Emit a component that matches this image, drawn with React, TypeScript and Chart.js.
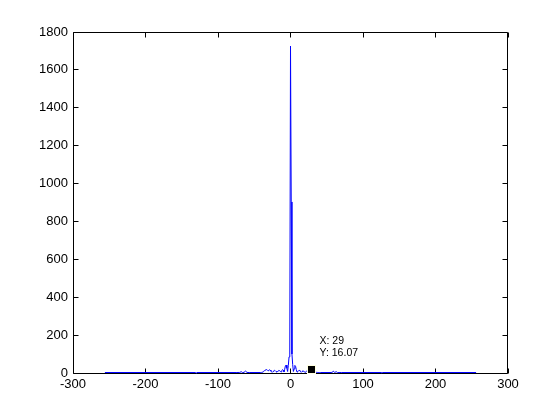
import { useEffect, useRef } from "react";
import { Chart, registerables } from "chart.js";

Chart.register(...registerables);

// Frequency bins (x) and magnitude values (y)
const freqs = [
  -256, -131, -130, -129, -75, -70, -68, -66, -64, -62, -60, -57,
  -41, -40, -39, -38, -37, -36, -35, -34, -33, -32, -31, -30, -29, -28, -27, -26, -25, -24, -23, -22, -21,
  -20, -19, -18, -17, -16, -15, -14, -13, -12, -11, -10, -9, -8, -7, -6, -5, -4, -3, -2, -1,
  0, 1, 2, 3, 4, 5, 6, 7, 8, 9, 10, 11, 12, 13, 14, 15, 16, 17, 18, 19, 20,
  21, 22, 23, 24, 25, 26, 27, 28, 29, 30, 31, 32, 33, 34, 35, 36, 37, 38, 39, 40, 41,
  56, 58, 59, 61, 63, 65, 67, 70, 125, 126, 127, 256,
];
const magnitude = [
  2.5, 2.5, 0, 2.5, 2.5, 3, 7, 2, 4, 10, 3, 2.5,
  2.5, 3, 4, 6, 9, 12, 15, 17, 18, 16, 12, 14, 17, 15, 10, 5, 4, 8, 12, 14, 12,
  8, 5, 7, 11, 14, 12, 8, 6, 12, 18, 15, 6, 20, 38, 42, 25, 8, 40, 85, 100,
  1726, 903, 100, 45, 8, 22, 40, 35, 18, 5, 8, 12, 14, 12, 6, 4, 8, 12, 10, 6, 4,
  6, 9, 12, 14, 12, 9, 12, 15, 16.07, 14, 11, 8, 6, 5, 4, 3.5, 3, 3, 2.5, 2.5, 2.5,
  2.5, 4, 10, 3, 7, 2, 2.5, 2.5, 2.5, 0, 2.5, 2.5,
];

const xTicks = [-300, -200, -100, 0, 100, 200, 300];
const yTicks = [0, 200, 400, 600, 800, 1000, 1200, 1400, 1600, 1800];

const tipX = 29;
const tipY = 16.07;
const tipLines = ["X: 29", "Y: 16.07"];

const FONT = "Arial, 'Liberation Sans', Helvetica, sans-serif";

const matlabAxes = {
  id: "matlabAxes",
  beforeDatasetsDraw(chart: any) {
    const { ctx } = chart;
    const xs = chart.scales.x;
    const ys = chart.scales.y;
    const L = Math.floor(xs.getPixelForValue(-300)) + 0.5;
    const R = Math.floor(xs.getPixelForValue(300)) - 0.5;
    const T = Math.floor(ys.getPixelForValue(1800)) + 0.5;
    const B = Math.floor(ys.getPixelForValue(0)) + 0.5;
    ctx.save();
    ctx.strokeStyle = "#000";
    ctx.lineWidth = 1;
    ctx.beginPath();
    ctx.rect(L, T, R - L, B - T);
    const tl = 5;
    for (const v of xTicks) {
      const p = Math.floor(xs.getPixelForValue(v)) + 0.5;
      ctx.moveTo(p, B);
      ctx.lineTo(p, B - tl);
      ctx.moveTo(p, T);
      ctx.lineTo(p, T + tl);
    }
    for (const v of yTicks) {
      const p = Math.floor(ys.getPixelForValue(v)) + 0.5;
      ctx.moveTo(L, p);
      ctx.lineTo(L + tl, p);
      ctx.moveTo(R, p);
      ctx.lineTo(R - tl, p);
    }
    ctx.stroke();
    ctx.restore();
  },
  afterDatasetsDraw(chart: any) {
    const { ctx } = chart;
    const px = chart.scales.x.getPixelForValue(tipX);
    const py = chart.scales.y.getPixelForValue(tipY);
    ctx.save();
    ctx.fillStyle = "#ffffe0";
    ctx.fillRect(Math.round(px) - 5, Math.round(py) - 5, 9, 9);
    ctx.fillStyle = "#000";
    ctx.fillRect(Math.round(px) - 4, Math.round(py) - 4, 7, 7);
    ctx.font = `10.5px ${FONT}`;
    ctx.textBaseline = "middle";
    ctx.textAlign = "left";
    ctx.fillText(tipLines[0], px + 8, py - 29);
    ctx.fillText(tipLines[1], px + 8, py - 17);
    ctx.restore();
  },
};

export default function App() {
  const ref = useRef<HTMLCanvasElement | null>(null);
  useEffect(() => {
    if (!ref.current) return;
    const chart = new Chart(ref.current, {
      type: "line",
      data: {
        datasets: [
          {
            data: freqs.map((x, i) => ({ x, y: magnitude[i] })),
            borderColor: "#0000ff",
            borderWidth: 1,
            pointRadius: 0,
            tension: 0,
            fill: false,
            clip: 4,
          } as any,
        ],
      },
      options: {
        responsive: false,
        animation: false,
        devicePixelRatio: 1,
        parsing: false,
        layout: { padding: { left: 0, right: 52, top: 32, bottom: 0 } },
        plugins: { legend: { display: false }, tooltip: { enabled: false } },
        scales: {
          x: {
            type: "linear",
            min: -300,
            max: 300,
            afterBuildTicks: (s: any) => {
              s.ticks = xTicks.map((v) => ({ value: v }));
            },
            afterFit: (s: any) => {
              s.height = 47;
            },
            ticks: {
              color: "#000",
              font: { family: FONT, size: 13 },
              padding: 4,
              maxRotation: 0,
              autoSkip: false,
              callback: (v: any) => String(v),
            },
            grid: { display: false, drawTicks: false },
            border: { display: false },
          },
          y: {
            type: "linear",
            min: 0,
            max: 1800,
            afterBuildTicks: (s: any) => {
              s.ticks = yTicks.map((v) => ({ value: v }));
            },
            afterFit: (s: any) => {
              s.width = 73;
            },
            ticks: {
              color: "#000",
              font: { family: FONT, size: 13 },
              padding: 5,
              autoSkip: false,
              callback: (v: any) => String(v),
            },
            grid: { display: false, drawTicks: false },
            border: { display: false },
          },
        },
      },
      plugins: [matlabAxes],
    });
    return () => chart.destroy();
  }, []);
  return (
    <div style={{ position: "absolute", left: 0, top: 0, width: 560, height: 420, background: "#fff" }}>
      <canvas ref={ref} width={560} height={420} />
    </div>
  );
}
